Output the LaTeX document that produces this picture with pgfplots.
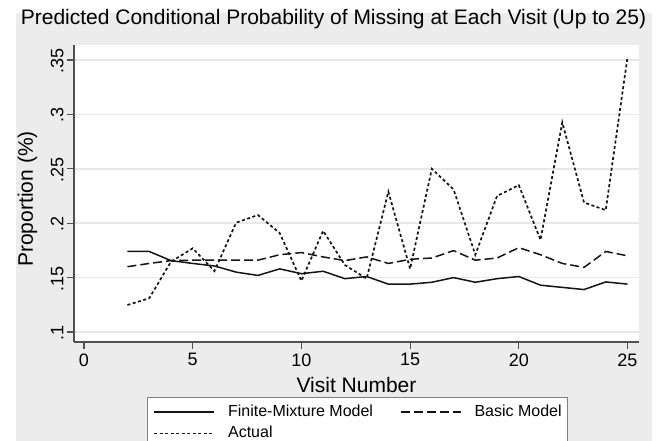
\documentclass[border=0pt]{standalone}
\usepackage{pgfplots}
\pgfplotsset{compat=1.18}
\usepackage{fontspec}
\setmainfont{Liberation Sans}
\definecolor{bggray}{RGB}{236,236,236}
\definecolor{gridgray}{RGB}{232,232,232}
\definecolor{axgray}{RGB}{80,80,80}
\definecolor{linecol}{RGB}{20,20,20}
\begin{document}
\begin{tikzpicture}[x=1bp,y=1bp]
\fill[white] (0,0) rectangle (667,441);
\fill[bggray] (16,0) rectangle (652,428);
\begin{axis}[
  at={(74bp,99bp)}, anchor=south west,
  scale only axis, width=565bp, height=297bp,
  xmin=-0.46, xmax=25.53, ymin=0.0908, ymax=0.3638,
  axis background/.style={fill=white},
  axis lines*=left,
  axis line style={axgray, line width=1.3bp},
  xtick={0,5,10,15,20,25},
  xticklabels={0,5,10,15,20,25},
  ytick={0.1,0.15,0.2,0.25,0.3,0.35},
  yticklabels={.1,.15,.2,.25,.3,.35},
  tick align=outside, major tick length=7bp,
  tick style={axgray, line width=1.1bp},
  ymajorgrids, grid style={gridgray, line width=1.5bp},
  xticklabel style={font=\fontsize{18bp}{20bp}\selectfont, color=black, yshift=-1bp},
  yticklabel style={font=\fontsize{18bp}{20bp}\selectfont, rotate=90, anchor=south, color=black, xshift=-1bp},
  title={Predicted Conditional Probability of Missing at Each Visit (Up to 25)},
  title style={at={(0.4593,1.0505)}, anchor=base, font=\fontsize{21bp}{24bp}\selectfont},
  xlabel={Visit Number},
  xlabel style={at={(0.5,-0.1684)}, anchor=base, font=\fontsize{21bp}{24bp}\selectfont},
  ylabel={Proportion (\%)},
  ylabel style={at={(-0.0726,0.4815)}, anchor=base, font=\fontsize{21bp}{24bp}\selectfont},
  legend columns=2,
  legend cell align=left,
  legend image code/.code={\draw[#1] (0bp,0bp) -- (60bp,0bp);},
  legend style={at={(0.1292,-0.1842)}, anchor=north west, draw=gray, line width=0.8bp, fill=white,
    font=\fontsize{16bp}{18bp}\selectfont, inner xsep=6bp, inner ysep=7.25bp,
    nodes={inner sep=0bp, text height=12bp, text depth=3.5bp},
    row sep=5.8bp,
    /tikz/every odd column/.append style={column sep=13bp},
    /tikz/every even column/.append style={column sep=27bp}},
]
\addplot[linecol, line width=1.5bp] coordinates {
(2,0.174) (3,0.174) (4,0.1656) (5,0.163) (6,0.1607) (7,0.155) (8,0.152) (9,0.158)
(10,0.1536) (11,0.1558) (12,0.149) (13,0.151) (14,0.144) (15,0.144) (16,0.1457)
(17,0.150) (18,0.1457) (19,0.149) (20,0.151) (21,0.143) (22,0.141) (23,0.139)
(24,0.146) (25,0.144)};
\addlegendentry{Finite-Mixture Model}
\addplot[linecol, line width=1.5bp, dash pattern=on 9bp off 4bp] coordinates {
(2,0.160) (3,0.163) (4,0.1656) (5,0.166) (6,0.166) (7,0.166) (8,0.166) (9,0.171)
(10,0.173) (11,0.169) (12,0.1656) (13,0.169) (14,0.163) (15,0.1668) (16,0.168)
(17,0.1748) (18,0.166) (19,0.168) (20,0.1775) (21,0.171) (22,0.163) (23,0.1594)
(24,0.174) (25,0.170)};
\addlegendentry{Basic Model}
\addplot[linecol, line width=1.7bp, dash pattern=on 3bp off 2.5bp] coordinates {
(2,0.1248) (3,0.131) (4,0.1646) (5,0.1769) (6,0.156) (7,0.2005) (8,0.2075) (9,0.191)
(10,0.147) (11,0.193) (12,0.1616) (13,0.149) (14,0.229) (15,0.158) (16,0.250)
(17,0.231) (18,0.171) (19,0.225) (20,0.235) (21,0.1846) (22,0.2927) (23,0.219)
(24,0.212) (25,0.3525)};
\addlegendentry{Actual}
\end{axis}
\pgfresetboundingbox
\path[use as bounding box] (0,0) rectangle (667,441);
\end{tikzpicture}
\end{document}
